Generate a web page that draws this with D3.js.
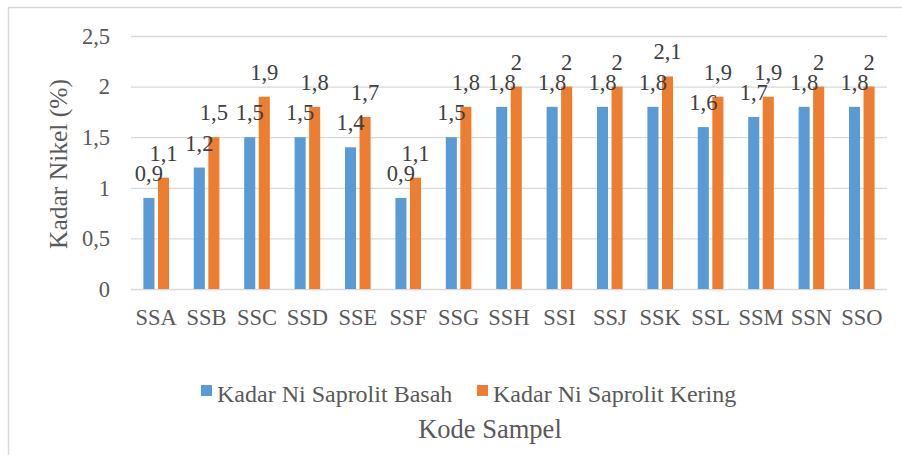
<!DOCTYPE html>
<html>
<head>
<meta charset="utf-8">
<script src="https://cdn.jsdelivr.net/npm/d3@7"></script>
</head>
<body style="margin:0;background:#fff">
<div id="chart"></div>
<script>
const width = 902;
const height = 455;
const FONT = "Liberation Serif";

// data
const categories = ["SSA", "SSB", "SSC", "SSD", "SSE", "SSF", "SSG", "SSH", "SSI", "SSJ", "SSK", "SSL", "SSM", "SSN", "SSO"];
const seriesNames = ["Kadar Ni Saprolit Basah", "Kadar Ni Saprolit Kering"];
const basah = [0.9, 1.2, 1.5, 1.5, 1.4, 0.9, 1.5, 1.8, 1.8, 1.8, 1.8, 1.6, 1.7, 1.8, 1.8];
const kering = [1.1, 1.5, 1.9, 1.8, 1.7, 1.1, 1.8, 2, 2, 2, 2.1, 1.9, 1.9, 2, 2];
const yTicks = [0, 0.5, 1, 1.5, 2, 2.5];
const colors = ["#5B9BD5", "#ED7D31"];

const fmt = v => String(v).replace(".", ",");

const svg = d3.select("#chart")
    .append("svg")
    .attr("width", width)
    .attr("height", height)
    .attr("font-family", FONT);

// cadre (haut + gauche seulement visibles)
svg.append("path")
    .attr("d", "M8.5,455 L8.5,7.5 L902,7.5")
    .attr("fill", "none")
    .attr("stroke", "#d9d9d9")
    .attr("stroke-width", 1.5);

// scales
const x = d3.scaleBand().domain(categories).range([131, 887]);
const x1 = d3.scaleBand().domain(seriesNames).range([0, 25.6]).paddingInner(0.24);
const y = d3.scaleLinear().domain([0, 2.5]).range([289, 36]);

// grid + y labels
const yAxis = svg.append("g")
    .attr("transform", "translate(131,0)")
    .call(d3.axisLeft(y).tickValues(yTicks).tickSize(-(887 - 131)).tickFormat(fmt).tickPadding(21))
    .attr("font-family", FONT)
    .attr("font-size", 22.5);
yAxis.select(".domain").remove();
yAxis.selectAll("line").attr("stroke", "#d9d9d9").attr("stroke-width", 1.3);
yAxis.selectAll("text").attr("fill", "#595959").attr("font-family", FONT);

// x labels
const xAxis = svg.append("g")
    .attr("transform", "translate(0,289)")
    .call(d3.axisBottom(x).tickSize(0).tickPadding(20))
    .attr("font-family", FONT)
    .attr("font-size", 22.5);
xAxis.select(".domain").remove();
xAxis.selectAll("text").attr("fill", "#595959").attr("font-family", FONT);

// bars
const rows = categories.map((c, i) => ({ cat: c, vals: [basah[i], kering[i]] }));
const offset = (x.bandwidth() - 25.6) / 2;

const group = svg.selectAll(".grp")
    .data(rows)
    .enter()
    .append("g")
    .attr("transform", d => `translate(${x(d.cat) + offset},0)`);

group.selectAll("rect")
    .data(d => d.vals.map((v, k) => ({ key: seriesNames[k], v, k })))
    .enter()
    .append("rect")
    .attr("x", d => x1(d.key))
    .attr("y", d => y(d.v))
    .attr("width", x1.bandwidth())
    .attr("height", d => y(0) - y(d.v))
    .attr("fill", d => colors[d.k]);

// data labels
group.selectAll(".lbl")
    .data(d => d.vals.map((v, k) => ({ key: seriesNames[k], v, k })))
    .enter()
    .append("text")
    .attr("x", d => x1(d.key) + x1.bandwidth() / 2)
    .attr("y", d => y(d.v) - 17)
    .attr("text-anchor", "middle")
    .attr("fill", "#404040")
    .attr("font-family", FONT)
    .attr("font-size", 22.5)
    .text(d => fmt(d.v));

// y title
svg.append("text")
    .attr("transform", "translate(67,164) rotate(-90)")
    .attr("text-anchor", "middle")
    .attr("fill", "#595959")
    .attr("font-family", FONT)
    .attr("font-size", 25.5)
    .text("Kadar Nikel (%)");

// x title
svg.append("text")
    .attr("x", 490)
    .attr("y", 438)
    .attr("text-anchor", "middle")
    .attr("fill", "#595959")
    .attr("font-family", FONT)
    .attr("font-size", 26.5)
    .text("Kode Sampel");

// legend
const legendX = [201, 477];
const legend = svg.selectAll(".leg")
    .data(seriesNames)
    .enter()
    .append("g")
    .attr("transform", (d, i) => `translate(${legendX[i]},385)`);

legend.append("rect")
    .attr("width", 11)
    .attr("height", 11)
    .attr("fill", (d, i) => colors[i]);

legend.append("text")
    .attr("x", 16)
    .attr("y", 16.5)
    .attr("fill", "#595959")
    .attr("font-family", FONT)
    .attr("font-size", 24)
    .text(d => d);
</script>
</body>
</html>
